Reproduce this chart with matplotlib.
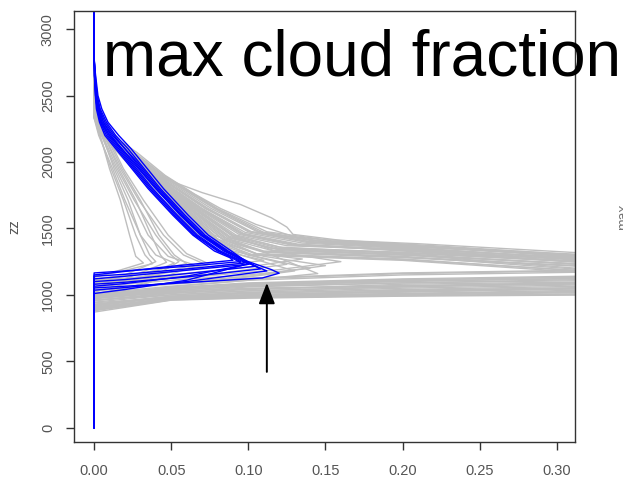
import matplotlib
matplotlib.use("Agg")
import matplotlib.pyplot as plt

# ---------------- data ----------------
# x = cloud fraction, z = height; each profile is listed top -> bottom
gray_wide_x = [
    [0, 0, 0.005, 0.012, 0.028, 0.046, 0.065, 0.082, 0.105, 0.129, 0.155, 0.185, 0.34, 0.34, 0.2, 0.1, 0.05, 0, 0],
    [0, 0, 0.004, 0.01, 0.025, 0.043, 0.07, 0.095, 0.115, 0.125, 0.129, 0.16, 0.22, 0.34, 0.34, 0.2, 0.1, 0.04, 0, 0],
    [0, 0, 0.01, 0.04, 0.072, 0.1, 0.14, 0.2, 0.34, 0.34, 0.2, 0.1, 0.05, 0, 0],
    [0, 0, 0.009, 0.037, 0.068, 0.095, 0.13, 0.2, 0.34, 0.34, 0.2, 0.1, 0.05, 0, 0],
    [0, 0, 0.008, 0.035, 0.065, 0.09, 0.12, 0.2, 0.34, 0.34, 0.2, 0.1, 0.05, 0, 0],
    [0, 0, 0.011, 0.042, 0.076, 0.105, 0.14, 0.2, 0.34, 0.34, 0.2, 0.1, 0.05, 0, 0],
    [0, 0, 0.007, 0.032, 0.06, 0.085, 0.11, 0.2, 0.34, 0.34, 0.2, 0.1, 0.05, 0, 0],
    [0, 0, 0.008, 0.034, 0.063, 0.088, 0.115, 0.2, 0.34, 0.34, 0.2, 0.1, 0.05, 0, 0],
    [0, 0, 0.006, 0.03, 0.058, 0.082, 0.105, 0.2, 0.34, 0.34, 0.2, 0.1, 0.05, 0, 0],
    [0, 0, 0.012, 0.044, 0.079, 0.11, 0.15, 0.22, 0.34, 0.34, 0.2, 0.1, 0.05, 0, 0],
    [0, 0, 0.0075, 0.033, 0.062, 0.087, 0.12, 0.2, 0.34, 0.34, 0.2, 0.1, 0.05, 0, 0],
    [0, 0, 0.01, 0.039, 0.07, 0.098, 0.135, 0.2, 0.34, 0.34, 0.2, 0.1, 0.05, 0, 0],
    [0, 0, 0.0065, 0.031, 0.059, 0.084, 0.11, 0.2, 0.34, 0.34, 0.2, 0.1, 0.05, 0, 0],
    [0, 0, 0.0085, 0.036, 0.066, 0.092, 0.125, 0.2, 0.34, 0.34, 0.2, 0.1, 0.05, 0, 0],
    [0, 0, 0.006, 0.029, 0.056, 0.08, 0.1, 0.2, 0.34, 0.34, 0.2, 0.1, 0.05, 0, 0],
    [0, 0, 0.011, 0.041, 0.074, 0.102, 0.14, 0.2, 0.34, 0.34, 0.2, 0.1, 0.05, 0, 0],
    [0, 0, 0.009, 0.038, 0.069, 0.096, 0.13, 0.2, 0.34, 0.34, 0.2, 0.1, 0.05, 0, 0],
    [0, 0, 0.007, 0.032, 0.061, 0.086, 0.115, 0.2, 0.34, 0.34, 0.2, 0.1, 0.05, 0, 0],
    [0, 0, 0.011, 0.043, 0.078, 0.108, 0.145, 0.2, 0.34, 0.34, 0.2, 0.1, 0.05, 0, 0],
    [0, 0, 0.009, 0.036, 0.067, 0.094, 0.128, 0.2, 0.34, 0.34, 0.2, 0.1, 0.05, 0, 0],
    [0, 0, 0.008, 0.034, 0.064, 0.09, 0.12, 0.2, 0.34, 0.34, 0.2, 0.1, 0.05, 0, 0],
    [0, 0, 0.007, 0.031, 0.059, 0.084, 0.11, 0.2, 0.34, 0.34, 0.2, 0.1, 0.05, 0, 0],
    [0, 0, 0.01, 0.04, 0.073, 0.1, 0.138, 0.2, 0.34, 0.34, 0.2, 0.1, 0.05, 0, 0],
    [0, 0, 0.006, 0.03, 0.057, 0.081, 0.102, 0.2, 0.34, 0.34, 0.2, 0.1, 0.05, 0, 0],
    [0, 0, 0.0095, 0.038, 0.07, 0.097, 0.132, 0.2, 0.34, 0.34, 0.2, 0.1, 0.05, 0, 0],
    [0, 0, 0.007, 0.033, 0.062, 0.088, 0.118, 0.2, 0.34, 0.34, 0.2, 0.1, 0.05, 0, 0],
    [0, 0, 0.012, 0.045, 0.08, 0.112, 0.15, 0.21, 0.34, 0.34, 0.2, 0.1, 0.05, 0, 0],
    [0, 0, 0.008, 0.035, 0.065, 0.091, 0.122, 0.2, 0.34, 0.34, 0.2, 0.1, 0.05, 0, 0],
]
gray_wide_z = [
    [3200, 2450, 2300, 2200, 2070, 1900, 1760, 1650, 1530, 1440, 1405, 1390, 1260, 1100, 1060, 1030, 1000, 960, 0],
    [3200, 2500, 2350, 2250, 2050, 1886, 1770, 1680, 1580, 1510, 1455, 1410, 1370, 1280, 1050, 1020, 1000, 975, 920, 0],
    [3200, 2420, 2200, 1900, 1650, 1480, 1400, 1360, 1250, 1140, 1110, 1080, 1040, 990, 0],
    [3200, 2400, 2200, 1900, 1650, 1460, 1380, 1330, 1230, 1080, 1050, 1020, 990, 930, 0],
    [3200, 2380, 2200, 1900, 1650, 1450, 1360, 1310, 1210, 1000, 990, 975, 960, 870, 0],
    [3200, 2440, 2200, 1900, 1650, 1480, 1410, 1375, 1270, 1120, 1090, 1060, 1020, 970, 0],
    [3200, 2360, 2200, 1900, 1650, 1420, 1330, 1290, 1170, 1040, 1010, 990, 975, 900, 0],
    [3200, 2400, 2200, 1900, 1650, 1440, 1350, 1320, 1240, 1175, 1150, 1110, 1065, 1010, 0],
    [3200, 2340, 2200, 1900, 1650, 1400, 1310, 1270, 1160, 1060, 1030, 1000, 980, 940, 0],
    [3200, 2460, 2200, 1900, 1650, 1470, 1400, 1360, 1290, 1020, 1000, 985, 965, 890, 0],
    [3200, 2370, 2200, 1900, 1650, 1430, 1340, 1300, 1220, 1100, 1080, 1040, 1010, 955, 0],
    [3200, 2420, 2200, 1900, 1650, 1470, 1390, 1350, 1260, 1070, 1040, 1010, 985, 915, 0],
    [3200, 2350, 2200, 1900, 1650, 1410, 1320, 1280, 1200, 1130, 1100, 1070, 1030, 980, 0],
    [3200, 2390, 2200, 1900, 1650, 1450, 1370, 1340, 1250, 1010, 995, 980, 962, 880, 0],
    [3200, 2330, 2200, 1900, 1650, 1390, 1300, 1260, 1150, 1090, 1060, 1030, 1000, 945, 0],
    [3200, 2430, 2200, 1900, 1650, 1475, 1400, 1365, 1275, 1050, 1025, 1000, 978, 905, 0],
    [3200, 2410, 2200, 1900, 1650, 1460, 1375, 1335, 1245, 1125, 1105, 1075, 1045, 995, 0],
    [3200, 2360, 2200, 1900, 1650, 1425, 1335, 1300, 1215, 1030, 1005, 990, 970, 895, 0],
    [3200, 2450, 2200, 1900, 1650, 1470, 1405, 1370, 1280, 1185, 1160, 1120, 1080, 1030, 0],
    [3200, 2390, 2200, 1900, 1650, 1455, 1375, 1345, 1265, 1145, 1120, 1090, 1055, 1000, 0],
    [3200, 2370, 2200, 1900, 1650, 1440, 1350, 1315, 1235, 1110, 1090, 1065, 1035, 985, 0],
    [3200, 2350, 2200, 1900, 1650, 1415, 1325, 1285, 1205, 1085, 1065, 1045, 1015, 960, 0],
    [3200, 2420, 2200, 1900, 1650, 1475, 1395, 1355, 1255, 1055, 1035, 1015, 990, 925, 0],
    [3200, 2340, 2200, 1900, 1650, 1395, 1305, 1265, 1165, 1025, 1010, 995, 972, 910, 0],
    [3200, 2400, 2200, 1900, 1650, 1462, 1382, 1340, 1225, 1190, 1165, 1125, 1085, 1040, 0],
    [3200, 2360, 2200, 1900, 1650, 1432, 1345, 1305, 1175, 1005, 995, 982, 966, 885, 0],
    [3200, 2440, 2200, 1900, 1650, 1475, 1415, 1385, 1300, 1095, 1070, 1050, 1025, 975, 0],
    [3200, 2380, 2200, 1900, 1650, 1445, 1355, 1320, 1230, 1135, 1115, 1085, 1050, 1005, 0],
]

gray_fan_x = [
    [0, 0, 0.003, 0.01, 0.017, 0.023, 0.027, 0.032, 0.015, 0, 0],
    [0, 0, 0.004, 0.013, 0.022, 0.03, 0.036, 0.04, 0.02, 0, 0],
    [0, 0, 0.005, 0.016, 0.027, 0.037, 0.043, 0.047, 0.02, 0, 0],
    [0, 0, 0.003, 0.012, 0.02, 0.03, 0.04, 0.052, 0.025, 0, 0],
    [0, 0, 0.006, 0.018, 0.03, 0.042, 0.052, 0.06, 0.03, 0, 0],
    [0, 0, 0.004, 0.014, 0.024, 0.035, 0.048, 0.065, 0.03, 0, 0],
    [0, 0, 0.005, 0.017, 0.029, 0.045, 0.058, 0.07, 0.035, 0, 0],
    [0, 0, 0.003, 0.011, 0.019, 0.027, 0.033, 0.038, 0.015, 0, 0],
    [0, 0, 0.006, 0.019, 0.032, 0.048, 0.06, 0.075, 0.04, 0, 0],
    [0, 0, 0.004, 0.015, 0.026, 0.04, 0.05, 0.055, 0.03, 0, 0],
]
gray_fan_z = [
    [3200, 2350, 2240, 1950, 1713, 1450, 1290, 1240, 1180, 1130, 0],
    [3200, 2380, 2240, 1950, 1713, 1450, 1300, 1250, 1150, 1080, 0],
    [3200, 2400, 2240, 1950, 1713, 1450, 1300, 1245, 1120, 1050, 0],
    [3200, 2330, 2200, 1950, 1713, 1450, 1300, 1240, 1100, 1020, 0],
    [3200, 2420, 2240, 1950, 1713, 1450, 1300, 1235, 1160, 1100, 0],
    [3200, 2360, 2220, 1950, 1713, 1450, 1290, 1225, 1130, 1060, 0],
    [3200, 2400, 2240, 1950, 1713, 1450, 1300, 1240, 1090, 1000, 0],
    [3200, 2340, 2220, 1950, 1713, 1450, 1300, 1235, 1170, 1140, 0],
    [3200, 2440, 2260, 1950, 1713, 1450, 1310, 1230, 1150, 1090, 0],
    [3200, 2380, 2240, 1950, 1713, 1450, 1300, 1250, 1080, 980, 0],
]

gray_mid_x = [
    [0, 0, 0.003, 0.01, 0.03, 0.05, 0.07, 0.09, 0.12, 0.14, 0.1, 0.05, 0, 0],
    [0, 0, 0.008, 0.035, 0.058, 0.08, 0.11, 0.15, 0.1, 0.05, 0, 0],
    [0, 0, 0.006, 0.027, 0.05, 0.072, 0.095, 0.13, 0.09, 0.04, 0, 0],
    [0, 0, 0.01, 0.04, 0.066, 0.09, 0.12, 0.16, 0.12, 0.06, 0, 0],
    [0, 0, 0.007, 0.03, 0.053, 0.075, 0.1, 0.125, 0.08, 0.03, 0, 0],
    [0, 0, 0.009, 0.038, 0.062, 0.085, 0.115, 0.145, 0.1, 0.05, 0, 0],
    [0, 0, 0.005, 0.025, 0.046, 0.067, 0.088, 0.11, 0.07, 0.03, 0, 0],
    [0, 0, 0.008, 0.034, 0.056, 0.078, 0.105, 0.135, 0.1, 0.05, 0, 0],
]
gray_mid_z = [
    [3200, 2500, 2350, 2200, 1950, 1700, 1480, 1330, 1250, 1200, 1150, 1110, 1060, 0],
    [3200, 2450, 2200, 1900, 1650, 1420, 1290, 1220, 1140, 1090, 1030, 0],
    [3200, 2400, 2200, 1950, 1650, 1420, 1300, 1180, 1120, 1080, 1010, 0],
    [3200, 2480, 2200, 1900, 1650, 1440, 1320, 1250, 1190, 1130, 1090, 0],
    [3200, 2420, 2200, 1950, 1700, 1450, 1300, 1230, 1160, 1120, 1080, 0],
    [3200, 2460, 2200, 1900, 1650, 1430, 1300, 1160, 1110, 1060, 990, 0],
    [3200, 2380, 2200, 1950, 1700, 1460, 1320, 1260, 1200, 1160, 1120, 0],
    [3200, 2440, 2200, 1920, 1680, 1450, 1310, 1270, 1210, 1150, 1110, 0],
]

blue_x = [
    [0, 0, 0.0003, 0.001, 0.002, 0.004, 0.008, 0.015, 0.022, 0.036, 0.052, 0.065, 0.08, 0.092, 0.095, 0.06, 0.02, 0, 0],
    [0, 0, 0.0004, 0.0013, 0.0025, 0.005, 0.01, 0.017, 0.024, 0.038, 0.054, 0.067, 0.082, 0.094, 0.098, 0.06, 0.02, 0, 0],
    [0, 0, 0.0006, 0.0018, 0.0035, 0.007, 0.013, 0.02, 0.027, 0.041, 0.057, 0.07, 0.085, 0.096, 0.1, 0.06, 0.02, 0, 0],
    [0, 0, 0.0008, 0.002, 0.004, 0.008, 0.014, 0.022, 0.029, 0.043, 0.059, 0.072, 0.087, 0.099, 0.105, 0.06, 0.02, 0, 0],
    [0, 0, 0.001, 0.0025, 0.005, 0.009, 0.016, 0.024, 0.031, 0.045, 0.061, 0.074, 0.089, 0.1, 0.108, 0.06, 0.02, 0, 0],
    [0, 0, 0.0003, 0.0012, 0.0025, 0.005, 0.01, 0.018, 0.025, 0.04, 0.056, 0.07, 0.086, 0.1, 0.115, 0.12, 0.109, 0.05, 0, 0],
    [0, 0, 0.0005, 0.0016, 0.003, 0.006, 0.012, 0.02, 0.028, 0.042, 0.058, 0.071, 0.086, 0.1, 0.112, 0.06, 0.02, 0, 0],
    [0, 0, 0.0003, 0.001, 0.002, 0.0045, 0.009, 0.016, 0.023, 0.037, 0.053, 0.066, 0.081, 0.093, 0.097, 0.06, 0.02, 0, 0],
    [0, 0, 0.0002, 0.0008, 0.0015, 0.0035, 0.007, 0.014, 0.021, 0.035, 0.051, 0.064, 0.078, 0.088, 0.09, 0.05, 0.015, 0, 0],
    [0, 0, 0.0005, 0.0015, 0.003, 0.006, 0.011, 0.018, 0.026, 0.04, 0.056, 0.069, 0.084, 0.097, 0.102, 0.06, 0.02, 0, 0],
]
blue_z = [
    [3200, 2850, 2650, 2500, 2400, 2300, 2200, 2100, 2000, 1800, 1600, 1450, 1330, 1270, 1250, 1215, 1180, 1165, 0],
    [3200, 2820, 2650, 2500, 2400, 2300, 2200, 2100, 2000, 1800, 1600, 1450, 1330, 1265, 1240, 1195, 1155, 1140, 0],
    [3200, 2800, 2650, 2500, 2400, 2300, 2200, 2100, 2000, 1800, 1600, 1450, 1330, 1260, 1230, 1185, 1140, 1120, 0],
    [3200, 2780, 2650, 2500, 2400, 2300, 2200, 2100, 2000, 1800, 1600, 1450, 1330, 1250, 1215, 1160, 1115, 1100, 0],
    [3200, 2760, 2650, 2500, 2400, 2300, 2200, 2100, 2000, 1800, 1600, 1450, 1330, 1240, 1195, 1135, 1095, 1080, 0],
    [3200, 2840, 2650, 2500, 2400, 2300, 2200, 2100, 2000, 1800, 1600, 1450, 1330, 1250, 1190, 1163, 1127, 1085, 1052, 0],
    [3200, 2810, 2650, 2500, 2400, 2300, 2200, 2100, 2000, 1800, 1600, 1450, 1330, 1240, 1180, 1100, 1055, 1035, 0],
    [3200, 2830, 2650, 2500, 2400, 2300, 2200, 2100, 2000, 1800, 1600, 1450, 1330, 1255, 1225, 1110, 1040, 1010, 0],
    [3200, 2870, 2650, 2500, 2400, 2300, 2200, 2100, 2000, 1800, 1600, 1450, 1330, 1280, 1260, 1215, 1170, 1150, 0],
    [3200, 2790, 2650, 2500, 2400, 2300, 2200, 2100, 2000, 1800, 1600, 1450, 1330, 1260, 1235, 1140, 1085, 1065, 0],
]

x_ticks = [0.00, 0.05, 0.10, 0.15, 0.20, 0.25, 0.30]
x_tick_labels = ["0.00", "0.05", "0.10", "0.15", "0.20", "0.25", "0.30"]
y_ticks = [0, 500, 1000, 1500, 2000, 2500, 3000]
y_tick_labels = ["0", "500", "1000", "1500", "2000", "2500", "3000"]

arrow_x = 0.112
arrow_tip_z = 1090
arrow_tail_z = 420

title_text = "max cloud fraction"
y_label = "zz"

# ---------------- figure ----------------
plt.rcParams["font.family"] = ["Liberation Sans", "DejaVu Sans"]
fig = plt.figure(figsize=(6.23, 4.78), dpi=100)
ax = fig.add_axes([74.4 / 623, 1 - 442 / 478, (575 - 74.4) / 623, (442 - 11.3) / 478])

GRAY = "#bebebe"
for group_x, group_z in ((gray_wide_x, gray_wide_z), (gray_fan_x, gray_fan_z),
                         (gray_mid_x, gray_mid_z)):
    for xs, zs in zip(group_x, group_z):
        ax.plot(xs, zs, color=GRAY, lw=1.0, solid_joinstyle="round")
for xs, zs in zip(blue_x, blue_z):
    ax.plot(xs, zs, color="#0000ff", lw=1.0, solid_joinstyle="round")

ax.annotate("", xy=(arrow_x, arrow_tip_z), xytext=(arrow_x, arrow_tail_z),
            arrowprops=dict(arrowstyle="-|>,head_length=0.85,head_width=0.33",
                            color="black", lw=1.4, shrinkA=0, shrinkB=0,
                            mutation_scale=15))

ax.set_xlim(-0.01277, 0.3118)
ax.set_ylim(-108, 3135)

ax.set_xticks(x_ticks)
ax.set_xticklabels(x_tick_labels)
ax.set_yticks(y_ticks)
ax.set_yticklabels(y_tick_labels, rotation=90, va="center")
ax.tick_params(axis="both", direction="out", length=6, width=1.0,
               color="#333333", labelsize=10.5, labelcolor="#555555")
ax.tick_params(axis="x", pad=10)
ax.tick_params(axis="y", pad=8)

for sp in ax.spines.values():
    sp.set_color("#333333")
    sp.set_linewidth(1.0)

ax.set_ylabel(y_label, fontsize=10.5, color="#555555")
ax.yaxis.set_label_coords(-(74.4 - 21) / (575 - 74.4), 0.5)

fig.text(103 / 623, 1 - 76 / 478, title_text, fontsize=46, color="black",
         ha="left", va="baseline")
fig.text(1.0, 1 - 217 / 478, "max", fontsize=10, color="#777777",
         rotation=90, ha="center", va="center")

fig.savefig("out.png", dpi=100)
